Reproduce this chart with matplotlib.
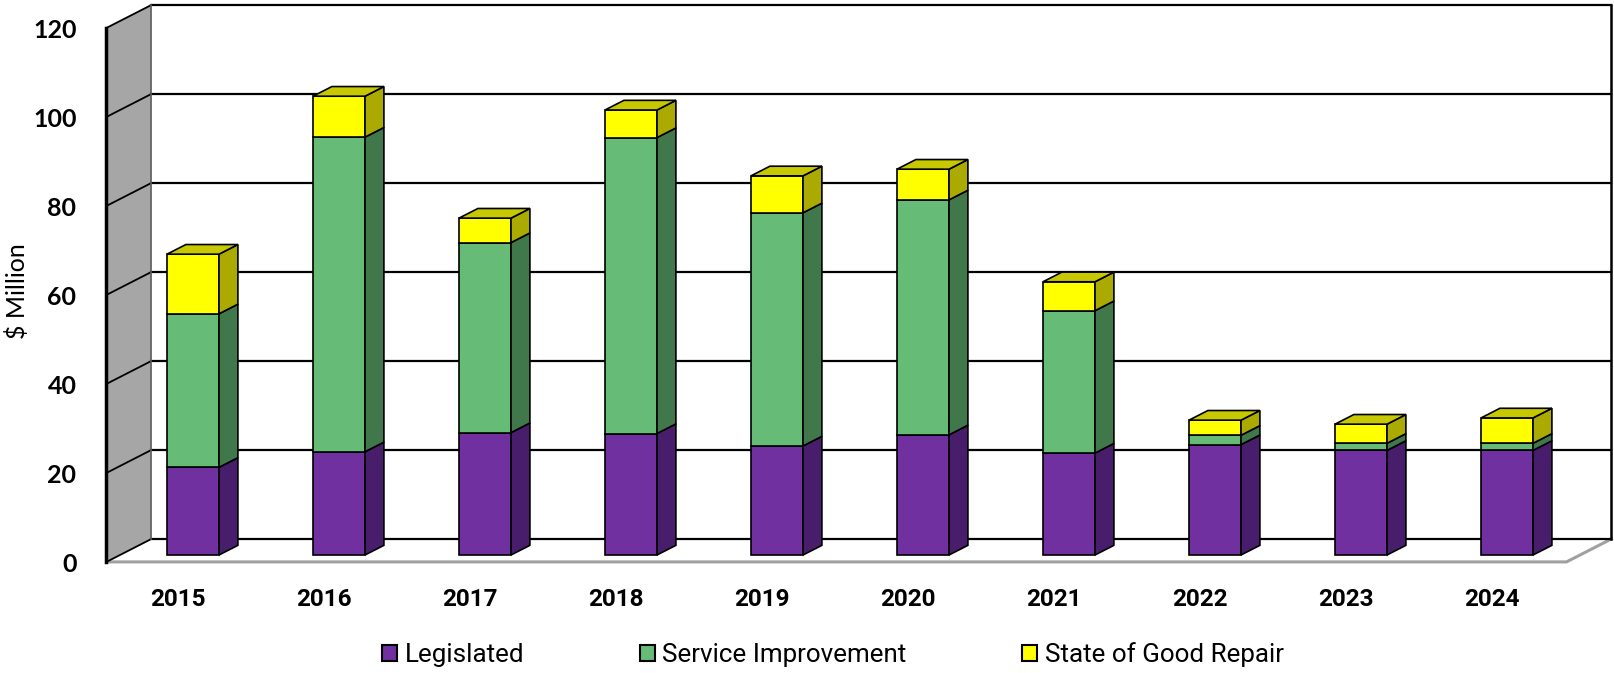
import matplotlib
matplotlib.use("Agg")
import matplotlib.pyplot as plt
from matplotlib.patches import Polygon, Patch

years = ["2015", "2016", "2017", "2018", "2019", "2020", "2021", "2022", "2023", "2024"]
legislated = [19.7, 23.2, 27.5, 27.3, 24.5, 27.0, 22.9, 24.8, 23.5, 23.5]
service = [34.5, 70.7, 42.7, 66.5, 52.4, 52.8, 32.0, 2.1, 1.6, 1.6]
good_repair = [13.4, 9.2, 5.5, 6.2, 8.3, 6.9, 6.5, 3.4, 4.3, 5.7]
series_names = ["Legislated", "Service Improvement", "State of Good Repair"]
yticks = [0, 20, 40, 60, 80, 100, 120]

front_cols = ["#7030a0", "#66bb77", "#ffff00"]
side_cols = ["#481d6b", "#41784b", "#aaaa00"]
top_cols = ["#5a2686", "#52985f", "#c8c800"]

narrow = ["Roboto", "DejaVu Sans"]
calib = ["Lato", "DejaVu Sans"]

# pixel geometry of the fake 3d box
W, H = 1614, 673
PXX, PXY = 146.0, 4.45
X0, Y0 = 193, 555
DEPTH = (45, 23)


def depth(d):
    return d * DEPTH[0] / PXX, d * DEPTH[1] / PXY


def px(dx, dy):
    return dx / PXX, dy / PXY


fig = plt.figure(figsize=(W / 100, H / 100), dpi=100)
ax = fig.add_axes([0, 0, 1, 1])
ax.set_xlim(-X0 / PXX, (W - X0) / PXX)
ax.set_ylim(-(H - Y0) / PXY, Y0 / PXY)
ax.axis("off")

xl, xr = -0.5, len(years) - 0.5
ymax = yticks[-1]
fx, fy = depth(-0.3)
bx, by = depth(0.7)

# left side wall
ax.add_patch(Polygon([(xl + fx, fy), (xl + fx, ymax + fy), (xl + bx, ymax + by), (xl + bx, by)],
                     closed=True, facecolor="#a6a6a6", edgecolor="none", zorder=1))
# floor
ax.add_patch(Polygon([(xl + fx, fy), (xr + fx, fy), (xr + bx, by), (xl + bx, by)],
                     closed=True, facecolor="white", edgecolor="none", zorder=1))
ax.plot([xl + fx, xr + fx, xr + bx], [fy, fy, by], color="#a0a0a0", lw=2.2, zorder=1.5)

for v in yticks:
    ax.plot([xl + bx, xr + bx], [v + by, v + by], color="black", lw=1.6, zorder=2)
    ax.plot([xl + fx, xl + bx], [v + fy, v + by], color="black", lw=1.3, zorder=2)
    lx, ly = px(-30, -3)
    ax.text(xl + fx + lx, v + fy + ly, str(v), ha="right", va="center",
            fontsize=18, fontweight="bold", family=calib)

ax.plot([xl + bx, xl + bx], [by, ymax + by], color="#606060", lw=1.2, zorder=2)
ax.plot([xr + bx, xr + bx], [by, ymax + by], color="black", lw=1.8, zorder=2)
ax.plot([xl + fx, xl + fx], [fy, ymax + fy], color="black", lw=2.5, zorder=2.5)

ax.text(*px(17 - X0, Y0 - 291), "$ Million", rotation=90, ha="center", va="center",
        fontsize=18, family=calib)

# bars
bw = 52 / PXX
ddx, ddy = depth(0.42)
stack = [legislated, service, good_repair]
for i in range(len(years)):
    bottom = 0
    for s, vals in enumerate(stack):
        h = vals[i]
        top = bottom + h
        ax.bar(i, h, bottom=bottom, width=bw, color=front_cols[s], edgecolor="black",
               lw=1.2, zorder=5)
        r = i + bw / 2
        ax.add_patch(Polygon([(r, bottom), (r + ddx, bottom + ddy), (r + ddx, top + ddy), (r, top)],
                             closed=True, facecolor=side_cols[s], edgecolor="black", lw=1.2, zorder=5))
        if s == len(stack) - 1:
            l = i - bw / 2
            ax.add_patch(Polygon([(l, top), (r, top), (r + ddx, top + ddy), (l + ddx, top + ddy)],
                                 closed=True, facecolor=top_cols[s], edgecolor="black", lw=1.2, zorder=5))
        bottom = top
    tx, ty = px(-15, -45)
    ax.text(i + tx, ty, years[i], ha="center", va="center", fontsize=17.5,
            fontweight="bold", family=narrow)

handles = [Patch(facecolor=c, edgecolor="black", lw=1.5) for c in front_cols]
fig.legend(handles, series_names, loc="center", bbox_to_anchor=(0.516, 0.027), ncol=3,
           frameon=False, prop={"family": narrow, "size": 18.7},
           handlelength=0.58, handleheight=0.58, handletextpad=0.3, columnspacing=4.45,
           borderpad=0)

fig.savefig("out.png", dpi=100)
